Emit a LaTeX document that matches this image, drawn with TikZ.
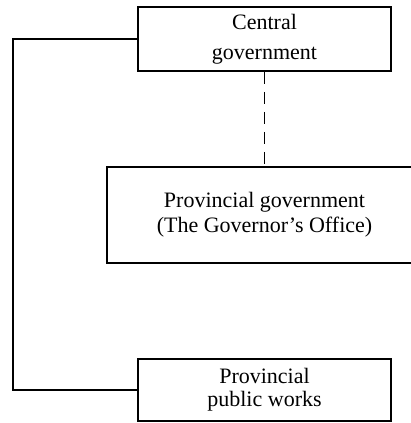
\documentclass[tikz,border=0pt]{standalone}
\usepackage{fontspec}
\setmainfont{Liberation Serif}
\begin{document}
\begin{tikzpicture}[x=1pt,y=-1pt,
  box/.style={draw,line width=1.8pt,inner sep=0pt,align=center,font=\fontsize{22}{25}\selectfont},
  conn/.style={line width=1.8pt},
  dashconn/.style={line width=1.8pt,dash pattern=on 12pt off 8pt}]
\useasboundingbox (0,0) rectangle (411,423);
\node[box,minimum width=253pt,minimum height=64pt,font=\fontsize{22}{30}\selectfont] (c) at (264.5,39) {Central\\government};
\node[box,minimum width=315pt,minimum height=96pt] (p) at (264.5,215) {Provincial government\\(The Governor's Office)};
\node[box,minimum width=253pt,minimum height=62pt,font=\fontsize{22}{23}\selectfont] (w) at (264.5,390) {Provincial\\public works};
\coordinate (k) at (13,39);
\draw[conn] (c.west) -- (k) |- (w.west);
\draw[dashconn] (c.south) -- (p.north);
\end{tikzpicture}
\end{document}
